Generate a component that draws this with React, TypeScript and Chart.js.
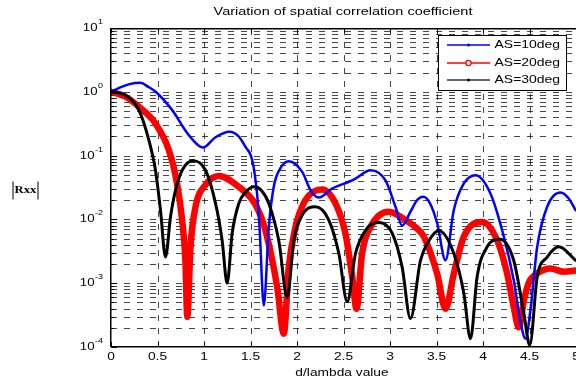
import React, { useEffect, useRef } from "react";
import { Chart, registerables } from "chart.js";

Chart.register(...registerables);

// ---------- text & labels ----------
const chartTitle = "Variation of spatial correlation coefficient";
const xAxisLabel = "d/lambda value";
const yAxisLabel = "Rxx";
const seriesNames = ["AS=10deg", "AS=20deg", "AS=30deg"];
const xTicks = [0, 0.5, 1, 1.5, 2, 2.5, 3, 3.5, 4, 4.5, 5];
const xTickLabels = ["0", "0.5", "1", "1.5", "2", "2.5", "3", "3.5", "4", "4.5", "5"];
const yExponents = [1, 0, -1, -2, -3, -4];
const yExpLabels = ["1", "0", "-1", "-2", "-3", "-4"];

// ---------- data (d/lambda, |Rxx|) ----------
const blueD = [0, 0.1, 0.2, 0.317, 0.4, 0.48, 0.658, 0.837, 0.99, 1.12, 1.274, 1.37, 1.446, 1.518, 1.57, 1.597, 1.643, 1.697, 1.75, 1.82, 1.912, 2.056, 2.145, 2.235, 2.378, 2.557, 2.629, 2.79, 2.95, 3.059, 3.13, 3.22, 3.29, 3.357, 3.43, 3.507, 3.597, 3.686, 3.794, 3.919, 4.08, 4.224, 4.33, 4.4, 4.457, 4.51, 4.583, 4.69, 4.833, 4.92, 4.995];
const blueR = [1, 1.172, 1.318, 1.384, 1.197, 1.0, 0.516, 0.209, 0.134, 0.192, 0.236, 0.202, 0.137, 0.0851, 0.0257, 0.00759, 0.000447, 0.00759, 0.0324, 0.0631, 0.0818, 0.0556, 0.0288, 0.022, 0.0305, 0.0389, 0.0437, 0.0592, 0.0412, 0.0158, 0.00794, 0.0132, 0.02, 0.0226, 0.0178, 0.00871, 0.00229, 0.014, 0.0366, 0.0493, 0.0255, 0.00537, 0.00112, 0.000263, 0.000135, 0.00038, 0.00372, 0.0158, 0.0264, 0.0214, 0.014];

const redD = [0, 0.156, 0.3, 0.478, 0.622, 0.71, 0.765, 0.8, 0.82, 0.855, 0.909, 1.016, 1.16, 1.374, 1.554, 1.66, 1.787, 1.858, 1.912, 1.984, 2.09, 2.27, 2.414, 2.52, 2.594, 2.64, 2.7, 2.79, 2.987, 3.167, 3.28, 3.364, 3.507, 3.597, 3.686, 3.794, 3.99, 4.153, 4.26, 4.33, 4.385, 4.44, 4.49, 4.58, 4.726, 4.87, 4.995];
const redR = [1, 0.836, 0.582, 0.319, 0.122, 0.0366, 0.00977, 0.00229, 0.000295, 0.00372, 0.0158, 0.0347, 0.0479, 0.0324, 0.017, 0.00676, 0.000871, 0.000162, 0.0018, 0.00759, 0.02, 0.0295, 0.0178, 0.00603, 0.00126, 0.000398, 0.00292, 0.00759, 0.0132, 0.00977, 0.00741, 0.00537, 0.00141, 0.000398, 0.00141, 0.00537, 0.00912, 0.00468, 0.00141, 0.000427, 0.000204, 0.000537, 0.001, 0.00141, 0.0017, 0.00151, 0.00158];

const blackD = [0, 0.156, 0.3, 0.407, 0.478, 0.532, 0.586, 0.64, 0.694, 0.765, 0.88, 1.016, 1.124, 1.195, 1.249, 1.303, 1.374, 1.45, 1.536, 1.62, 1.697, 1.804, 1.895, 1.966, 2.056, 2.2, 2.342, 2.45, 2.54, 2.629, 2.737, 2.88, 3.024, 3.13, 3.22, 3.328, 3.42, 3.525, 3.686, 3.794, 3.866, 3.937, 4.045, 4.18, 4.33, 4.44, 4.503, 4.583, 4.69, 4.815, 4.995];
const blackR = [1, 0.887, 0.516, 0.175, 0.0589, 0.014, 0.00257, 0.011, 0.0288, 0.0589, 0.0832, 0.0589, 0.0178, 0.00468, 0.001, 0.00603, 0.0178, 0.0269, 0.0324, 0.0282, 0.0178, 0.00468, 0.000603, 0.00468, 0.0117, 0.0158, 0.00977, 0.00292, 0.000513, 0.00292, 0.00676, 0.00891, 0.00603, 0.0018, 0.000279, 0.00229, 0.00468, 0.00661, 0.00292, 0.000692, 0.000135, 0.00126, 0.00372, 0.0049, 0.00229, 0.000331, 0.000107, 0.00126, 0.00257, 0.00372, 0.00229];

const seriesColors = ["#0000ff", "#ff0000", "#000000"];

const SANS = '"Liberation Sans", Arial, sans-serif';
const SERIF = '"Liberation Serif", "Times New Roman", serif';

function drawText(
  ctx: CanvasRenderingContext2D,
  s: string,
  x: number,
  y: number,
  font: string,
  align: CanvasTextAlign,
  sx: number
) {
  ctx.save();
  ctx.font = font;
  ctx.textBaseline = "middle";
  ctx.textAlign = align;
  ctx.fillStyle = "#000";
  ctx.translate(x, y);
  ctx.scale(sx, 1);
  ctx.fillText(s, 0, 0);
  ctx.restore();
}

const matlabPlugin = {
  id: "matlabDecor",
  beforeDatasetsDraw(chart: any) {
    const { ctx, chartArea: a, scales } = chart;
    const xs = scales.x;
    const ys = scales.y;
    ctx.save();
    ctx.fillStyle = "#fff";
    ctx.fillRect(a.left, a.top, a.right - a.left, a.bottom - a.top);
    ctx.strokeStyle = "rgba(0,0,0,0.72)";
    ctx.lineWidth = 1;
    ctx.setLineDash([6, 7]);
    for (const t of xTicks) {
      if (t <= 0 || t >= 5) continue;
      const px = Math.round(xs.getPixelForValue(t)) + 0.5;
      ctx.beginPath();
      ctx.moveTo(px, a.bottom);
      ctx.lineTo(px, a.top);
      ctx.stroke();
    }
    for (let e = -4; e <= 0; e++) {
      for (let k = 1; k <= 9; k++) {
        const v = k * Math.pow(10, e);
        if (v <= 1.0001e-4) continue;
        const py = Math.round(ys.getPixelForValue(v)) + 0.5;
        ctx.beginPath();
        ctx.moveTo(a.left, py);
        ctx.lineTo(a.right, py);
        ctx.stroke();
      }
    }
    ctx.setLineDash([]);
    // tick marks
    ctx.strokeStyle = "#000";
    for (let e = -4; e <= 0; e++) {
      for (let k = 1; k <= 9; k++) {
        const v = k * Math.pow(10, e);
        const py = Math.round(ys.getPixelForValue(v)) + 0.5;
        const len = k === 1 ? 6 : 3;
        ctx.beginPath();
        ctx.moveTo(a.left, py);
        ctx.lineTo(a.left + len, py);
        ctx.stroke();
      }
    }
    for (const t of xTicks) {
      const px = Math.round(xs.getPixelForValue(t)) + 0.5;
      ctx.beginPath();
      ctx.moveTo(px, a.bottom);
      ctx.lineTo(px, a.bottom - 5);
      ctx.moveTo(px, a.top);
      ctx.lineTo(px, a.top + 5);
      ctx.stroke();
    }
    ctx.restore();
  },
  afterDatasetsDraw(chart: any) {
    const { ctx, chartArea: a } = chart;
    ctx.save();
    // axes box
    ctx.strokeStyle = "#000";
    ctx.lineWidth = 1.5;
    ctx.beginPath();
    ctx.moveTo(a.left, a.bottom - 0.25);
    ctx.lineTo(a.right, a.bottom - 0.25);
    ctx.moveTo(a.left - 0.25, a.bottom);
    ctx.lineTo(a.left - 0.25, a.top);
    ctx.moveTo(a.left, a.top + 0.75);
    ctx.lineTo(a.right, a.top + 0.75);
    ctx.stroke();

    // legend
    const lx = 438, ly = 35, lw = 128, lh = 55;
    ctx.fillStyle = "#fff";
    ctx.fillRect(lx, ly, lw, lh);
    ctx.lineWidth = 1;
    ctx.strokeRect(lx + 0.5, ly + 0.5, lw, lh);
    const rows = [45, 63, 80];
    seriesNames.forEach((name, i) => {
      const ry = rows[i];
      ctx.strokeStyle = i === 2 ? "#333" : seriesColors[i];
      ctx.lineWidth = 1.5;
      ctx.beginPath();
      ctx.moveTo(447, ry);
      ctx.lineTo(490, ry);
      ctx.stroke();
      if (i === 1) {
        ctx.beginPath();
        ctx.arc(468.5, ry, 2.6, 0, Math.PI * 2);
        ctx.fillStyle = "#fff";
        ctx.fill();
        ctx.strokeStyle = "#ff0000";
        ctx.lineWidth = 1.3;
        ctx.stroke();
      } else {
        ctx.beginPath();
        ctx.arc(468.5, ry, 1.5, 0, Math.PI * 2);
        ctx.fillStyle = seriesColors[i];
        ctx.fill();
      }
      drawText(ctx, name, 494.5, ry, `11px ${SANS}`, "left", 1.27);
    });
    ctx.restore();
  },
  afterDraw(chart: any) {
    const { ctx, scales } = chart;
    const xs = scales.x;
    const ys = scales.y;
    ctx.save();
    // title
    drawText(ctx, chartTitle, 343, 12, `11.5px ${SANS}`, "center", 1.26);
    // x tick labels
    xTicks.forEach((t, i) => {
      drawText(ctx, xTickLabels[i], xs.getPixelForValue(t), 357, `11px ${SANS}`, "center", 1.25);
    });
    // x axis label
    drawText(ctx, xAxisLabel, 342, 373, `11px ${SANS}`, "center", 1.25);
    // y tick labels 10^n
    const baseFont = `11px ${SANS}`;
    const expFont = `7.5px ${SANS}`;
    const sx = 1.2;
    const right = 102.5;
    yExponents.forEach((e, i) => {
      const py = ys.getPixelForValue(Math.pow(10, e));
      ctx.font = baseFont;
      const wb = ctx.measureText("10").width * sx;
      ctx.font = expFont;
      const we = ctx.measureText(yExpLabels[i]).width * sx;
      const xb = right - we - wb;
      drawText(ctx, "10", xb, py, baseFont, "left", sx);
      drawText(ctx, yExpLabels[i], xb + wb + 0.5, py - 6, expFont, "left", sx);
    });
    // y axis label |Rxx|
    drawText(ctx, yAxisLabel, 25.5, 190, `bold 11px ${SERIF}`, "center", 1.15);
    ctx.strokeStyle = "#000";
    ctx.lineWidth = 1;
    ctx.beginPath();
    ctx.moveTo(13, 181.5);
    ctx.lineTo(13, 199.5);
    ctx.moveTo(38, 181.5);
    ctx.lineTo(38, 199.5);
    ctx.stroke();
    ctx.restore();
  },
};

function toPoints(d: number[], r: number[]) {
  return d.map((x, i) => ({ x, y: r[i] }));
}

export default function App() {
  const ref = useRef<HTMLCanvasElement | null>(null);
  useEffect(() => {
    if (!ref.current) return;
    const common = {
      pointRadius: 0,
      fill: false,
      cubicInterpolationMode: "monotone" as const,
      borderJoinStyle: "round" as const,
      borderCapStyle: "round" as const,
    };
    const chart = new Chart(ref.current, {
      type: "line",
      data: {
        datasets: [
          { ...common, label: seriesNames[0], data: toPoints(blueD, blueR), borderColor: seriesColors[0], borderWidth: 2.5, order: 2 },
          { ...common, label: seriesNames[1], data: toPoints(redD, redR), borderColor: seriesColors[1], borderWidth: 6.5, order: 3 },
          { ...common, label: seriesNames[2], data: toPoints(blackD, blackR), borderColor: seriesColors[2], borderWidth: 3, order: 1 },
        ],
      },
      options: {
        responsive: false,
        animation: false,
        devicePixelRatio: 1,
        events: [],
        layout: { padding: { left: 111, right: 0, top: 28, bottom: 36 } },
        plugins: {
          legend: { display: false },
          tooltip: { enabled: false },
          title: { display: false },
        },
        scales: {
          x: { type: "linear", min: 0, max: 5, display: false },
          y: { type: "logarithmic", min: 1e-4, max: 10, display: false },
        },
      },
      plugins: [matlabPlugin],
    } as any);
    return () => chart.destroy();
  }, []);
  return (
    <div style={{ position: "fixed", left: 0, top: 0, width: 576, height: 383, background: "#fff" }}>
      <canvas ref={ref} width={576} height={383} style={{ display: "block" }} />
    </div>
  );
}
